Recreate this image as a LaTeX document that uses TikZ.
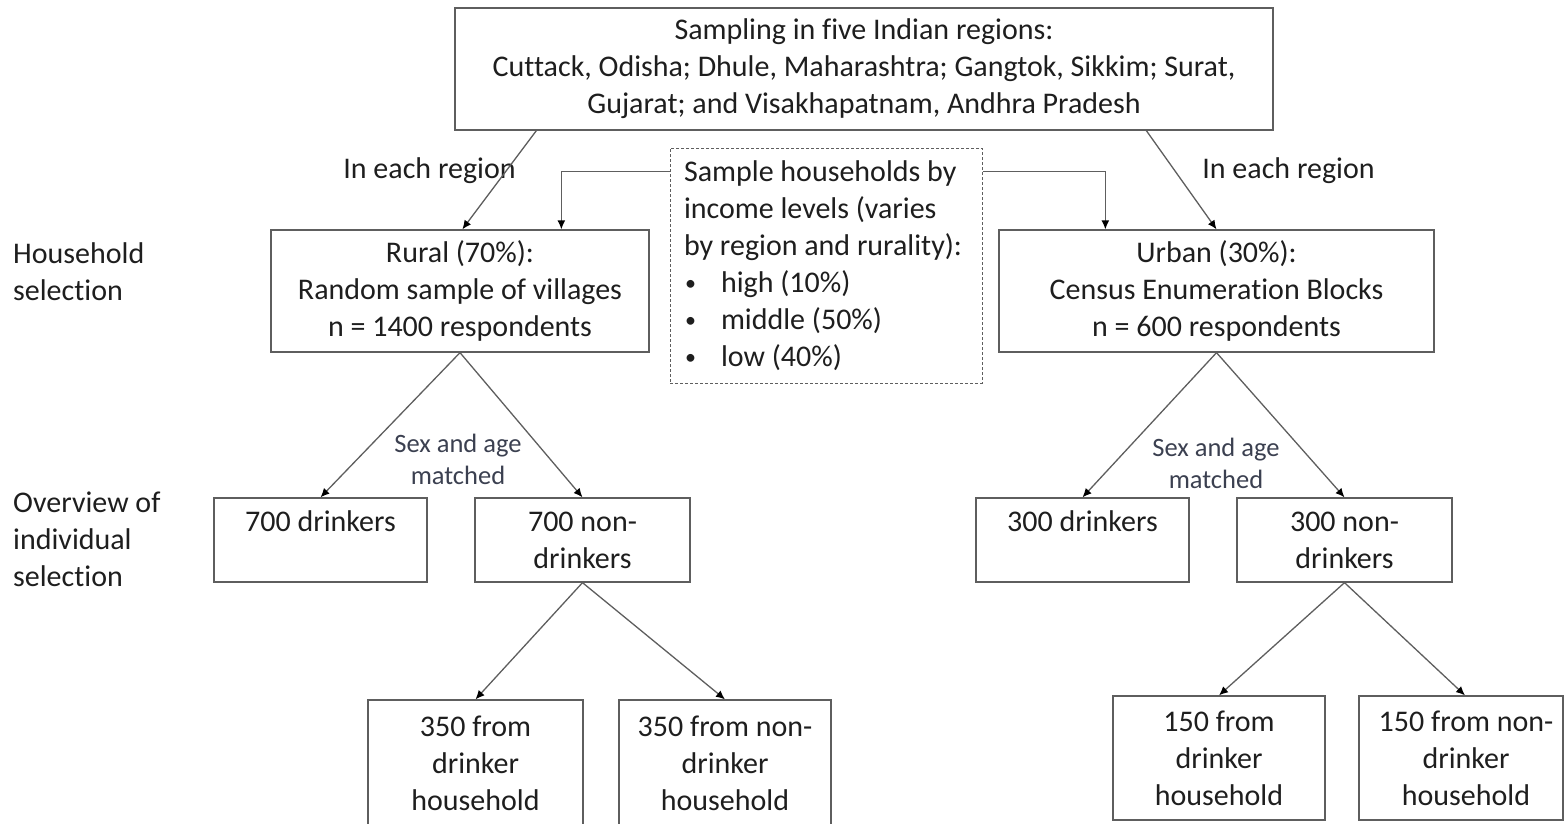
\documentclass[tikz,border=0pt]{standalone}
\usepackage{fontspec}
\setmainfont{Carlito}[Ligatures={NoCommon}]
\usetikzlibrary{arrows.meta,calc}
\definecolor{linegray}{HTML}{5E5E5E}
\definecolor{txt}{HTML}{1E1E1E}
\definecolor{lbl}{HTML}{3B4050}
\tikzset{
  box/.style={draw=linegray, line width=1.3pt, rectangle, inner sep=0pt, align=center, text=txt,
    font=\fontsize{30}{37}\selectfont},
  dbox/.style={box, dashed, dash pattern=on 3pt off 2pt, line width=1pt},
  plain/.style={inner sep=0pt, text=txt, font=\fontsize{30}{37}\selectfont},
  small/.style={inner sep=0pt, text=lbl, align=center, font=\fontsize{26.5}{32}\selectfont},
  conn/.style={draw=linegray, line width=1.3pt, -{Latex[length=9pt,width=8pt,fill=black,color=black]}},
}
\newcommand{\bul}{\makebox[37pt][l]{\hspace*{1pt}\raisebox{2pt}{\fontsize{22}{22}\selectfont\textbullet}}}
\begin{document}
\begin{tikzpicture}[x=1pt,y=-1pt]
\useasboundingbox (0,0) rectangle (1564,823);
\node[box, minimum width=818, minimum height=122] (top) at (864,69)
  {Sampling in five Indian regions:\\Cuttack, Odisha; Dhule, Maharashtra; Gangtok, Sikkim; Surat,\\Gujarat; and Visakhapatnam, Andhra Pradesh};
\node[box, minimum width=378, minimum height=122] (rural) at (460,291)
  {Rural (70\%):\\Random sample of villages\\n = 1400 respondents};
\node[box, minimum width=435, minimum height=122] (urban) at (1216.5,291)
  {Urban (30\%):\\Census Enumeration Blocks\\n = 600 respondents};
\node[dbox, align=left, minimum width=312, minimum height=235] (income) at (826,265.5)
  {\hspace*{-6pt}Sample households by\\\hspace*{-6pt}income levels (varies\\\hspace*{-6pt}by region and rurality):\\\hspace*{-6pt}\bul high (10\%)\\\hspace*{-6pt}\bul middle (50\%)\\\hspace*{-6pt}\bul low (40\%)};
\node[box, minimum width=213, minimum height=84] (d700) at (320.5,540) {700 drinkers\\\mbox{}};
\node[box, minimum width=215, minimum height=84] (n700) at (582.5,540) {700 non-\\drinkers};
\node[box, minimum width=213, minimum height=84] (d300) at (1082.5,540) {300 drinkers\\\mbox{}};
\node[box, minimum width=215, minimum height=84] (n300) at (1344.5,540) {300 non-\\drinkers};
\node[box, minimum width=215, minimum height=126] (h350d) at (475.5,763) {350 from\\drinker\\household};
\node[box, minimum width=212, minimum height=126] (h350n) at (725,763) {350 from non-\\drinker\\household};
\node[box, minimum width=212, minimum height=124] (h150d) at (1219,758) {150 from\\drinker\\household};
\node[box, minimum width=204, minimum height=124] (h150n) at (1461,758) {\hspace*{10pt}150 from non-\\\hspace*{10pt}drinker\\\hspace*{10pt}household};
\node[plain] (reg1) at (429.5,171) {In each region};
\node[plain] (reg2) at (1288.5,171) {In each region};
\node[plain, anchor=west, align=left] (hs) at (13,271.5) {Household\\selection};
\node[plain, anchor=west, align=left] (ov) at (13,539) {Overview of\\individual\\selection};
\node[small] (sex1) at (458,459) {Sex and age\\matched};
\node[small] (sex2) at (1216,463) {Sex and age\\matched};
\draw[conn] ([xshift=82pt]top.south west) -- ([xshift=192pt]rural.north west);
\draw[conn] ([xshift=692pt]top.south west) -- (urban.north);
\draw[conn] ([yshift=-24pt]income.north west) -| ([xshift=291pt]rural.north west);
\draw[conn] ([yshift=-24pt]income.north east) -| ([xshift=107pt]urban.north west);
\draw[conn] (rural.south) -- (d700.north);
\draw[conn] (rural.south) -- (n700.north);
\draw[conn] (urban.south) -- (d300.north);
\draw[conn] (urban.south) -- (n300.north);
\draw[conn] (n700.south) -- (h350d.north);
\draw[conn] (n700.south) -- (h350n.north);
\draw[conn] (n300.south) -- (h150d.north);
\draw[conn] (n300.south) -- ([xshift=4pt]h150n.north);
\end{tikzpicture}
\end{document}
